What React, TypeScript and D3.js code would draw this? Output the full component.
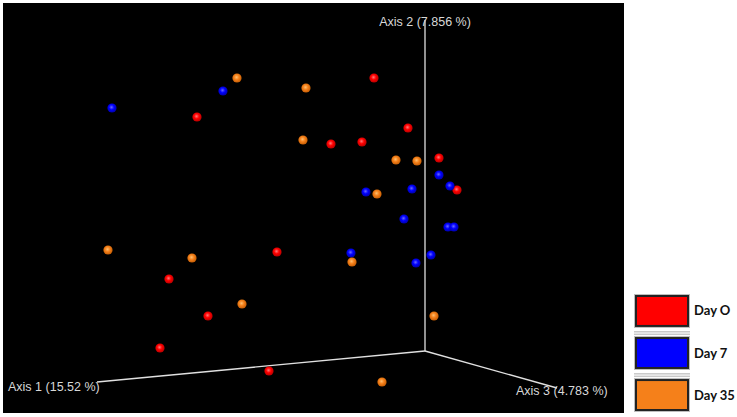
import React from "react";
import * as d3 from "d3";

// projected PCoA coordinates (screen plane, origin = axes origin)
const day0X = [-0.51, -2.28, -0.17, -0.94, -0.63, 0.14, 0.32, -1.48, -2.56, -2.17, -2.65, -1.56];
const day0Y = [2.73, 2.34, 2.23, 2.07, 2.09, 1.93, 1.61, 0.99, 0.72, 0.35, 0.03, -0.2];
const day7X = [-3.13, -2.02, 0.14, 0.25, -0.59, -0.13, -0.21, 0.23, 0.29, -0.74, 0.06, -0.09];
const day7Y = [2.43, 2.6, 1.76, 1.65, 1.59, 1.62, 1.32, 1.24, 1.24, 0.98, 0.96, 0.88];
const day35X = [-1.88, -1.19, -1.22, -0.29, -0.08, -0.48, -3.17, -2.33, -1.83, -0.73, 0.09, -0.43];
const day35Y = [2.73, 2.63, 2.11, 1.91, 1.9, 1.57, 1.01, 0.93, 0.47, 0.89, 0.35, -0.31];

const groups = ["Day O", "Day 7", "Day 35"];
const groupColors = ["#ff0000", "#0000ff", "#f5801a"];
const groupLight = ["#ff7a7a", "#6a6aff", "#ffc070"];
const groupDark = ["#b00000", "#0000a0", "#c05a00"];

// axis end points in the same projected plane
const axisNames = ["Axis 1 (15.52 %)", "Axis 2 (7.856 %)", "Axis 3 (4.783 %)"];
const axisEndX = [-3.28, 0, 1.32];
const axisEndY = [-0.31, 3.31, -0.37];

const W = 737;
const H = 417;

export default function App() {
  const x = d3.scaleLinear().domain([0, 1]).range([425, 525]);
  const y = d3.scaleLinear().domain([0, 1]).range([351, 251]);

  const series = [
    { xs: day0X, ys: day0Y },
    { xs: day7X, ys: day7Y },
    { xs: day35X, ys: day35Y },
  ];

  const legendBox = d3.scaleBand().domain(groups).range([295, 411]).paddingInner(0.24);

  return (
    <svg
      width={W}
      height={H}
      style={{ position: "absolute", left: 0, top: 0, display: "block", background: "#fff" }}
    >
      <defs>
        {groups.map((g, i) => (
          <radialGradient key={g} id={"ball" + i} cx="45%" cy="42%" r="60%">
            <stop offset="0%" stopColor={groupLight[i]} />
            <stop offset="45%" stopColor={groupColors[i]} />
            <stop offset="100%" stopColor={groupDark[i]} />
          </radialGradient>
        ))}
        <filter id="soft" x="-50%" y="-50%" width="200%" height="200%">
          <feGaussianBlur stdDeviation="0.5" />
        </filter>
      </defs>
      <rect x={3} y={3} width={621} height={410} fill="#000" />

      {axisEndX.map((ex, i) => (
        <line
          key={"ax" + i}
          x1={x(0)}
          y1={y(0)}
          x2={x(ex)}
          y2={y(axisEndY[i])}
          stroke="#e0e0e0"
          strokeWidth={1.3}
        />
      ))}

      <g fontFamily="'Liberation Sans', Arial, sans-serif" fontSize={12.5} fill="#d8d8d8">
        <text x={8} y={391}>{axisNames[0]}</text>
        <text x={x(0)} y={26} textAnchor="middle">{axisNames[1]}</text>
        <text x={516} y={395}>{axisNames[2]}</text>
      </g>

      {series.map((s, gi) => (
        <g key={"s" + gi} filter="url(#soft)">
          {s.xs.map((v, j) => (
            <circle key={j} cx={x(v)} cy={y(s.ys[j])} r={4.6} fill={`url(#ball${gi})`} />
          ))}
        </g>
      ))}

      {groups.map((g, i) => {
        const by = legendBox(g) as number;
        const bh = legendBox.bandwidth();
        return (
          <g key={"lg" + g}>
            {i > 0 && (
              <g>
                <rect x={634} y={by - 6} width={56} height={1.5} fill="#c8c8c8" />
                <rect x={634} y={by - 3.5} width={56} height={1.5} fill="#c8c8c8" />
              </g>
            )}
            <rect x={634} y={by - 1} width={56} height={bh + 2} fill="#bdbdbd" />
            <rect
              x={636}
              y={by + 1}
              width={52}
              height={bh - 2}
              fill={groupColors[i]}
              stroke="#222"
              strokeWidth={2}
            />
            <text
              x={694}
              y={by + bh / 2 + 4.5}
              fontFamily="Lato, 'Open Sans', sans-serif"
              fontWeight={700}
              fontSize={13}
              fill="#111"
            >
              {g}
            </text>
          </g>
        );
      })}
    </svg>
  );
}
